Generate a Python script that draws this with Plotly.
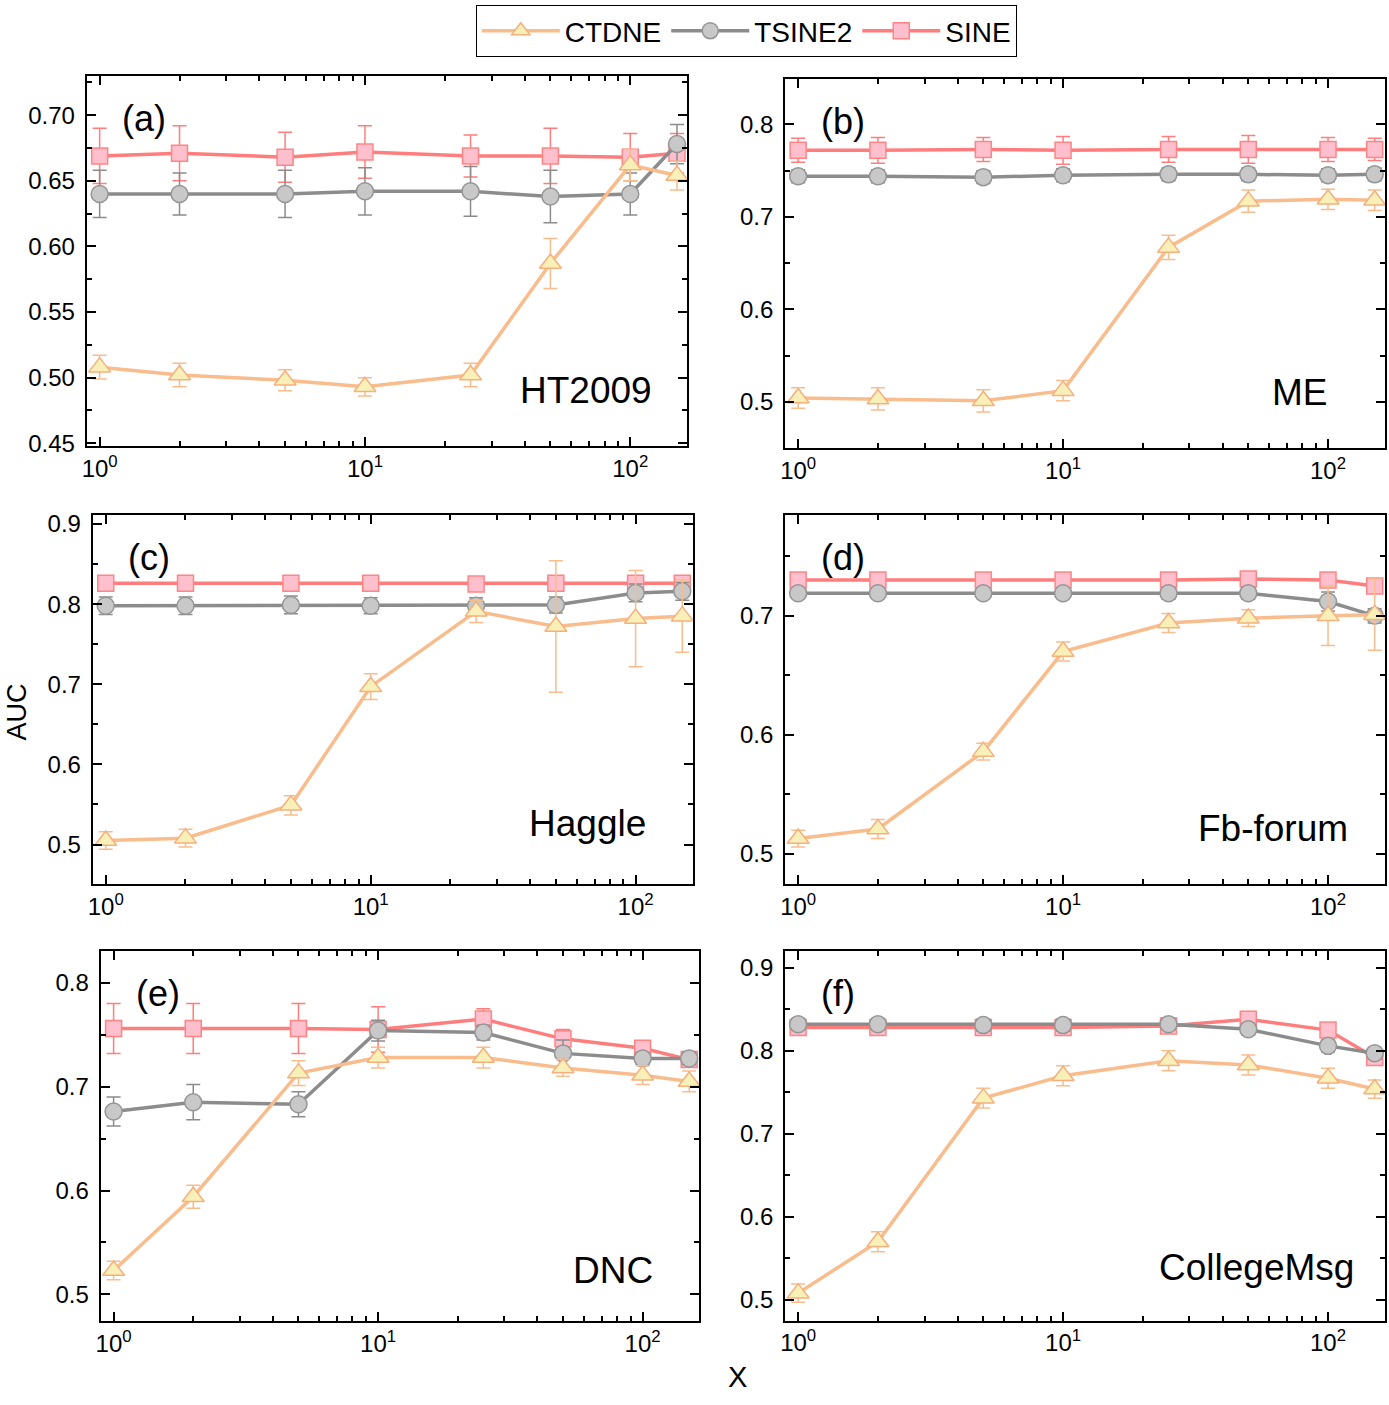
import plotly.graph_objects as go
from plotly.subplots import make_subplots

x_vals = [1, 2, 5, 10, 25, 50, 100, 150]

ht2009_ctdne = [0.508, 0.502, 0.498, 0.493, 0.502, 0.587, 0.662, 0.654]
ht2009_ctdne_err = [0.009, 0.009, 0.008, 0.007, 0.009, 0.019, 0.012, 0.011]
ht2009_tsine2 = [0.640, 0.640, 0.640, 0.642, 0.642, 0.638, 0.640, 0.678]
ht2009_tsine2_err = [0.018, 0.016, 0.018, 0.018, 0.019, 0.020, 0.016, 0.015]
ht2009_sine = [0.669, 0.671, 0.668, 0.672, 0.669, 0.669, 0.668, 0.671]
ht2009_sine_err = [0.021, 0.021, 0.019, 0.020, 0.016, 0.021, 0.018, 0.015]

me_ctdne = [0.504, 0.503, 0.501, 0.512, 0.667, 0.717, 0.719, 0.718]
me_ctdne_err = [0.011, 0.012, 0.012, 0.011, 0.013, 0.012, 0.011, 0.011]
me_tsine2 = [0.744, 0.744, 0.743, 0.745, 0.746, 0.746, 0.745, 0.746]
me_tsine2_err = [0.007, 0.007, 0.007, 0.007, 0.007, 0.007, 0.007, 0.007]
me_sine = [0.772, 0.772, 0.773, 0.772, 0.773, 0.773, 0.773, 0.773]
me_sine_err = [0.013, 0.014, 0.013, 0.015, 0.014, 0.015, 0.013, 0.012]

haggle_ctdne = [0.505, 0.508, 0.549, 0.697, 0.791, 0.772, 0.782, 0.785]
haggle_ctdne_err = [0.011, 0.011, 0.012, 0.016, 0.014, 0.082, 0.060, 0.045]
haggle_tsine2 = [0.798, 0.798, 0.799, 0.798, 0.798, 0.799, 0.814, 0.816]
haggle_tsine2_err = [0.011, 0.011, 0.011, 0.010, 0.010, 0.010, 0.011, 0.011]
haggle_sine = [0.826, 0.826, 0.826, 0.826, 0.825, 0.826, 0.826, 0.826]
haggle_sine_err = [0.009, 0.009, 0.009, 0.009, 0.009, 0.009, 0.009, 0.009]

fbforum_ctdne = [0.513, 0.521, 0.586, 0.670, 0.694, 0.698, 0.700, 0.701]
fbforum_ctdne_err = [0.007, 0.008, 0.007, 0.008, 0.008, 0.007, 0.025, 0.030]
fbforum_tsine2 = [0.719, 0.719, 0.719, 0.719, 0.719, 0.719, 0.712, 0.700]
fbforum_tsine2_err = [0.004, 0.004, 0.004, 0.004, 0.005, 0.005, 0.008, 0.006]
fbforum_sine = [0.730, 0.730, 0.730, 0.730, 0.730, 0.731, 0.730, 0.725]
fbforum_sine_err = [0.004, 0.004, 0.004, 0.004, 0.004, 0.004, 0.004, 0.006]

dnc_ctdne = [0.523, 0.594, 0.713, 0.728, 0.728, 0.718, 0.711, 0.705]
dnc_ctdne_err = [0.009, 0.011, 0.012, 0.010, 0.010, 0.008, 0.009, 0.010]
dnc_tsine2 = [0.676, 0.685, 0.683, 0.754, 0.752, 0.732, 0.727, 0.727]
dnc_tsine2_err = [0.014, 0.017, 0.012, 0.010, 0.007, 0.013, 0.006, 0.006]
dnc_sine = [0.756, 0.756, 0.756, 0.755, 0.765, 0.746, 0.737, 0.726]
dnc_sine_err = [0.024, 0.024, 0.024, 0.022, 0.010, 0.009, 0.006, 0.005]

college_ctdne = [0.508, 0.570, 0.743, 0.770, 0.788, 0.783, 0.767, 0.754]
college_ctdne_err = [0.011, 0.012, 0.012, 0.012, 0.012, 0.012, 0.012, 0.011]
college_tsine2 = [0.832, 0.832, 0.831, 0.831, 0.832, 0.826, 0.806, 0.797]
college_tsine2_err = [0.007, 0.007, 0.007, 0.007, 0.007, 0.007, 0.007, 0.007]
college_sine = [0.828, 0.828, 0.828, 0.828, 0.830, 0.838, 0.825, 0.792]
college_sine_err = [0.007, 0.007, 0.007, 0.007, 0.007, 0.007, 0.007, 0.007]

panel_tags = ["(a)", "(b)", "(c)", "(d)", "(e)", "(f)"]
dataset_names = ["HT2009", "ME", "Haggle", "Fb-forum", "DNC", "CollegeMsg"]

panels = [
    (ht2009_ctdne, ht2009_ctdne_err, ht2009_tsine2, ht2009_tsine2_err, ht2009_sine, ht2009_sine_err),
    (me_ctdne, me_ctdne_err, me_tsine2, me_tsine2_err, me_sine, me_sine_err),
    (haggle_ctdne, haggle_ctdne_err, haggle_tsine2, haggle_tsine2_err, haggle_sine, haggle_sine_err),
    (fbforum_ctdne, fbforum_ctdne_err, fbforum_tsine2, fbforum_tsine2_err, fbforum_sine, fbforum_sine_err),
    (dnc_ctdne, dnc_ctdne_err, dnc_tsine2, dnc_tsine2_err, dnc_sine, dnc_sine_err),
    (college_ctdne, college_ctdne_err, college_tsine2, college_tsine2_err, college_sine, college_sine_err),
]

# where each panel sits (paper coords) and its y settings
x_domains = [(0.059, 0.493), (0.5637, 0.9971), (0.0634, 0.4968),
             (0.5637, 0.9971), (0.0691, 0.5018), (0.5637, 0.9971)]
y_domains = [(0.6826, 0.949), (0.6811, 0.9466), (0.3673, 0.6327),
             (0.3673, 0.6327), (0.0527, 0.3189), (0.0529, 0.3191)]
y_ranges = [(0.448, 0.730), (0.450, 0.849), (0.451, 0.911),
            (0.475, 0.7845), (0.4746, 0.8305), (0.475, 0.9206)]
y_dticks = [0.05, 0.1, 0.1, 0.1, 0.1, 0.1]
y_formats = [".2f", ".1f", ".1f", ".1f", ".1f", ".1f"]
name_pos = [(0.944, 0.15), (0.909, 0.15), (0.925, 0.164),
            (0.942, 0.15), (0.925, 0.136), (0.952, 0.144)]

FONT = "Liberation Sans, Arial, sans-serif"

styles = {
    "CTDNE": dict(line="#F9BC8C", fill="#F8F0B8", edge="#F5B07C", symbol="triangle-up", size=19),
    "TSINE2": dict(line="#8C8C8C", fill="#C8C8C8", edge="#959595", symbol="circle", size=17),
    "SINE": dict(line="#FF7D7D", fill="#FFBFCC", edge="#FF8585", symbol="square", size=16),
}
ranks = {"CTDNE": 1, "TSINE2": 2, "SINE": 3}

fig = make_subplots(rows=3, cols=2)

for i, data in enumerate(panels):
    row, col = i // 2 + 1, i % 2 + 1
    series = {"CTDNE": (data[0], data[1]), "TSINE2": (data[2], data[3]), "SINE": (data[4], data[5])}
    # SINE first so that CTDNE is drawn on top
    for name in ["SINE", "TSINE2", "CTDNE"]:
        vals, errs = series[name]
        st = styles[name]
        fig.add_trace(go.Scatter(
            x=x_vals, y=vals, name=name, mode="lines+markers",
            line=dict(color=st["line"], width=3.5),
            marker=dict(symbol=st["symbol"], size=st["size"], color=st["fill"],
                        line=dict(color=st["edge"], width=1.5)),
            error_y=dict(type="data", array=errs, visible=True, color=st["line"],
                         thickness=1.5, width=7),
            showlegend=(i == 0), legendrank=ranks[name],
        ), row=row, col=col)

minor_x = [2, 3, 4, 5, 6, 7, 8, 9, 20, 30, 40, 50, 60, 70, 80, 90]

for i in range(6):
    sfx = "" if i == 0 else str(i + 1)
    fig.layout["xaxis" + sfx].update(
        type="log", range=[-0.049, 2.215], domain=list(x_domains[i]),
        tickvals=[1, 10, 100], ticktext=["10<sup>0</sup>", "10<sup>1</sup>", "10<sup>2</sup>"],
        ticks="inside", ticklen=9, tickwidth=2, tickcolor="black",
        minor=dict(tickvals=minor_x, ticks="inside", ticklen=5, tickwidth=1.5, tickcolor="black"),
        showline=True, linewidth=2, linecolor="black", mirror="allticks",
        showgrid=False, zeroline=False,
        tickfont=dict(family=FONT, size=24, color="black"),
    )
    fig.layout["yaxis" + sfx].update(
        range=list(y_ranges[i]), domain=list(y_domains[i]),
        dtick=y_dticks[i], tick0=0, tickformat=y_formats[i],
        ticks="inside", ticklen=9, tickwidth=2, tickcolor="black",
        minor=dict(dtick=y_dticks[i] / 2, ticks="inside", ticklen=5, tickwidth=1.5, tickcolor="black"),
        showline=True, linewidth=2, linecolor="black", mirror="allticks",
        showgrid=False, zeroline=False, ticklabelstandoff=5,
        tickfont=dict(family=FONT, size=24, color="black"),
    )
    xr = "x" + sfx + " domain"
    yr = "y" + sfx + " domain"
    fig.add_annotation(text=panel_tags[i], xref=xr, yref=yr, x=0.056, y=0.885,
                       xanchor="left", yanchor="middle", showarrow=False,
                       font=dict(family=FONT, size=36, color="black"))
    fig.add_annotation(text=dataset_names[i], xref=xr, yref=yr, x=name_pos[i][0], y=name_pos[i][1],
                       xanchor="right", yanchor="middle", showarrow=False,
                       font=dict(family=FONT, size=37, color="black"))

fig.add_annotation(text="AUC", xref="paper", yref="paper", x=0.009, y=0.491, textangle=-90,
                   xanchor="center", yanchor="middle", showarrow=False,
                   font=dict(family=FONT, size=27, color="black"))
fig.add_annotation(text="X", xref="paper", yref="paper", x=0.529, y=0.012,
                   xanchor="center", yanchor="middle", showarrow=False,
                   font=dict(family=FONT, size=29, color="black"))

fig.update_layout(
    width=1389, height=1405,
    margin=dict(l=0, r=0, t=0, b=0),
    paper_bgcolor="white", plot_bgcolor="white",
    font=dict(family=FONT, color="black"),
    legend=dict(orientation="h", x=0.5356, y=1.0, xanchor="center", yanchor="top",
                bordercolor="black", borderwidth=1, bgcolor="white",
                font=dict(family=FONT, size=28, color="black"),
                itemwidth=78, traceorder="normal"),
)

# the page must be exactly the figure: drop the default body margin
page_fix = ("document.documentElement.style.margin='0';"
            "document.body.style.margin='0';"
            "document.body.style.overflow='hidden';")

fig.write_html("out.html", config={"displayModeBar": False}, post_script=page_fix)
